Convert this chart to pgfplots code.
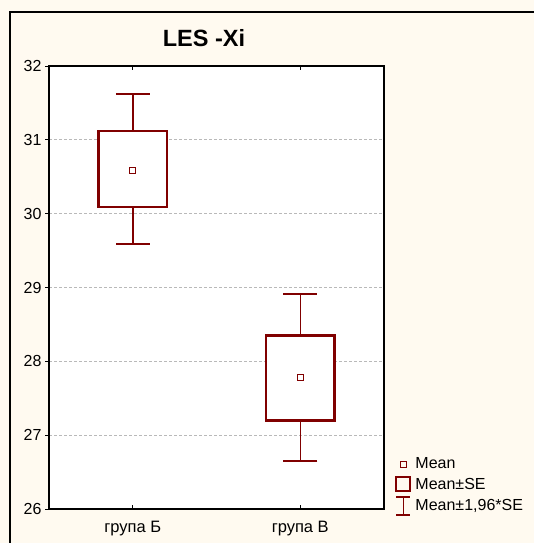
\documentclass[border=0pt]{standalone}
\usepackage{pgfplots}
\pgfplotsset{compat=1.18}
\usepackage{fontspec}
\setmainfont{Liberation Sans}
\definecolor{mred}{RGB}{128,0,0}
\definecolor{bgc}{RGB}{255,250,240}
\begin{document}
\begin{tikzpicture}
\path[use as bounding box, fill=bgc] (0,0) rectangle (534pt,-543pt);
\draw[line width=1.5pt, black] (10pt,-548pt) -- (10pt,-12pt) -- (540pt,-12pt);
\node[font=\fontsize{23.5}{28}\selectfont\bfseries] at (204pt,-38pt) {LES -Xi};
\begin{axis}[
  at={(49pt,-509pt)}, anchor=south west,
  width=335pt, height=443pt, scale only axis,
  xmin=-0.5, xmax=1.5, ymin=26, ymax=32,
  axis background/.style={fill=white},
  axis line style={line width=1.3pt, black},
  xtick={0,1}, xticklabels={група Б, група В},
  ytick={26,27,28,29,30,31,32},
  xtick pos=both, xtick align=inside,
  ytick pos=left, ytick align=outside,
  major tick length=4pt,
  every tick/.style={black, line width=1pt},
  tick label style={font=\fontsize{16}{19}\selectfont},
  xticklabel style={yshift=-9pt, font=\fontsize{16.5}{19}\selectfont},
  /pgf/number format/assume math mode=true,
  ymajorgrids,
  major grid style={gray!55, dash pattern=on 3pt off 2pt, line width=0.8pt},
  legend style={at={(1.033,0.125)}, anchor=north west, draw=none, fill=none,
    font=\fontsize{16}{19}\selectfont, row sep=3.5pt, inner xsep=0pt,
    cells={anchor=west}, /tikz/every odd column/.append style={column sep=2pt}},
]
\addlegendimage{legend image code/.code={\draw[mred, line width=1pt] (4pt,-3pt) rectangle (10pt,3pt);}}
\addlegendentry{Mean}
\addlegendimage{legend image code/.code={\draw[mred, line width=2.2pt] (0pt,-7pt) rectangle (14pt,7pt);}}
\addlegendentry{Mean±SE}
\addlegendimage{legend image code/.code={\draw[mred, line width=1.5pt] (7pt,-9pt) -- (7pt,9pt) (0pt,-9pt) -- (14pt,-9pt) (0pt,9pt) -- (14pt,9pt);}}
\addlegendentry{Mean±1,96*SE}
% whiskers: mean +- 1.96*SE
\addplot[mred, draw=none, mark=none, forget plot,
  error bars/.cd, y dir=both, y explicit,
  error bar style={line width=1.5pt, mred},
  error mark options={rotate=90, mred, mark size=17pt, line width=1.5pt}]
  coordinates {(0,30.59) += (0,1.03) -= (0,1.00)
               (1,27.78) += (0,1.13) -= (0,1.13)};
% boxes: mean +- SE
\addplot[mred, line width=2.2pt, fill=white, forget plot]
  coordinates {(-0.205,30.09) (0.205,30.09) (0.205,31.12) (-0.205,31.12)} -- cycle;
\addplot[mred, line width=2.2pt, fill=white, forget plot]
  coordinates {(0.795,27.20) (1.205,27.20) (1.205,28.35) (0.795,28.35)} -- cycle;
% means
\addplot[mred, only marks, mark=square, mark size=3pt, line width=1pt, forget plot,
  mark options={draw=mred, fill=white, solid}]
  coordinates {(0,30.59) (1,27.78)};
\end{axis}
\end{tikzpicture}
\end{document}
